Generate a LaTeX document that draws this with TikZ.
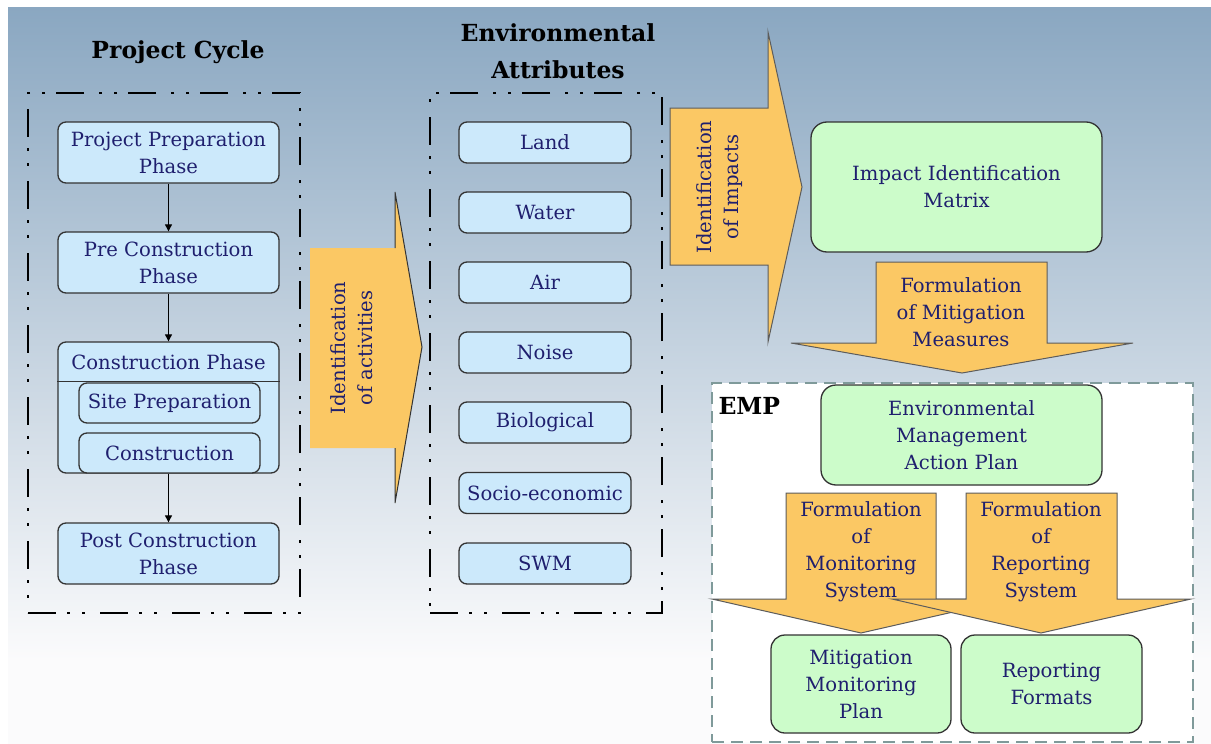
\documentclass[tikz,border=0pt]{standalone}
\usepackage{fontspec}
\setmainfont{DejaVu Serif}
\usetikzlibrary{arrows.meta}
\definecolor{bluefill}{HTML}{CCE9FB}
\definecolor{greenfill}{HTML}{CCFCCA}
\definecolor{orangefill}{HTML}{FBC864}
\definecolor{navy}{HTML}{1F1F6E}
\definecolor{boxline}{HTML}{333333}
\definecolor{bgtop}{HTML}{8AA7C1}
\definecolor{bgbottom}{HTML}{FBFBFC}
\definecolor{empline}{HTML}{7F9A9A}
\tikzset{
  txt/.style={font=\fontsize{19.6}{27}\selectfont, text=navy, align=center},
  pbox/.style={draw=boxline, fill=bluefill, line width=1.3pt, rounded corners=8pt, inner sep=0pt, txt},
  gbox/.style={draw=boxline, fill=greenfill, line width=1.3pt, rounded corners=16pt, inner sep=0pt, txt},
  dashdotbox/.style={draw=black, line width=2.8pt, dash pattern=on 28pt off 11pt on 3pt off 12pt on 3pt off 15pt, inner sep=0pt},
  empbox/.style={draw=empline, fill=white, line width=2.4pt, dash pattern=on 12pt off 7pt, inner sep=0pt},
  blockarrow/.style={fill=orangefill, draw=boxline!80, line width=1pt, line join=miter},
  title/.style={font=\fontsize{23.5}{37}\selectfont\bfseries, text=black, align=center},
  flow/.style={-{Triangle[length=7pt,width=7pt]}, line width=0.9pt, draw=black}
}
\begin{document}
\begin{tikzpicture}[x=1pt,y=-1pt]
\useasboundingbox (0,0) rectangle (1211,744);
% background
\fill[white] (0,0) rectangle (1211,744);
\shade[top color=bgtop, bottom color=bgbottom] (8,7) rectangle (1211,660);
\fill[bgbottom] (8,659.5) rectangle (1211,744);

% titles
\node[title] (t1) at (178,52) {Project Cycle};
\node[title] (t2) at (558,51) {Environmental\\Attributes};

% containers
\node[dashdotbox, minimum width=272pt, minimum height=520pt] (c1) at (164,353) {};
\node[dashdotbox, minimum width=232pt, minimum height=520pt] (c2) at (546,353) {};
\node[empbox, minimum width=481pt, minimum height=359pt] (emp) at (952.5,562.5) {};
\node[title, anchor=west] (emplabel) at (715,406) {EMP};

% project cycle boxes
\node[pbox, minimum width=221pt, minimum height=61pt] (pp) at (168.5,152.5) {Project Preparation\\Phase};
\node[pbox, minimum width=221pt, minimum height=61pt] (pc) at (168.5,262.5) {Pre Construction\\Phase};
\node[pbox, minimum width=221pt, minimum height=131pt] (cp) at (168.5,407.5) {};
\draw[boxline, line width=1.3pt] ([yshift=-40pt]cp.north west) -- ([yshift=-40pt]cp.north east);
\node[txt] (cpt) at (168.5,362) {Construction Phase};
\node[pbox, minimum width=181pt, minimum height=40pt] (sp) at (169.5,403) {Site Preparation};
\node[pbox, minimum width=181pt, minimum height=40pt] (co) at (169.5,453) {Construction};
\node[pbox, minimum width=221pt, minimum height=61pt] (pcp) at (168.5,553.5) {Post Construction\\Phase};
\draw[flow] (pp) -- (pc);
\draw[flow] (pc) -- (cp);
\draw[flow] (cp) -- (pcp);

% attributes
\node[pbox, minimum width=172pt, minimum height=41pt] (a1) at (545,142.5) {Land};
\node[pbox, minimum width=172pt, minimum height=41pt] (a2) at (545,212.5) {Water};
\node[pbox, minimum width=172pt, minimum height=41pt] (a3) at (545,282.5) {Air};
\node[pbox, minimum width=172pt, minimum height=41pt] (a4) at (545,352.5) {Noise};
\node[pbox, minimum width=172pt, minimum height=41pt] (a5) at (545,422.5) {Biological};
\node[pbox, minimum width=172pt, minimum height=41pt] (a6) at (545,493) {Socio-economic};
\node[pbox, minimum width=172pt, minimum height=41pt] (a7) at (545,563.5) {SWM};

% block arrow: identification of activities
\fill[orangefill] (310,248) -- (395,248) -- (395,192) -- (422,347) -- (395,503) -- (395,448) -- (310,448) -- cycle;
\draw[boxline, line width=1pt] (395,248) -- (395,192) -- (422,347) -- (395,503) -- (395,448);
\node[txt, rotate=90] (l1) at (352,348) {Identification\\of activities};

% block arrow: identification of impacts
\path[blockarrow] (670,108) -- (768,108) -- (768,32) -- (802,187) -- (768,342) -- (768,265) -- (670,265) -- cycle;
\node[txt, rotate=90] (l2) at (720,187) {Identification\\of Impacts};

% green boxes
\node[gbox, minimum width=291pt, minimum height=130pt] (iim) at (956.5,187) {Impact Identification\\Matrix};

% block arrow: mitigation measures
\path[blockarrow] (876,262) -- (1047,262) -- (1047,343) -- (1133,343) -- (962,373) -- (791,343) -- (876,343) -- cycle;
\node[txt] (l3) at (961,312) {Formulation\\of Mitigation\\Measures};

\node[gbox, minimum width=281pt, minimum height=100pt, rounded corners=15pt] (emap) at (961.5,435) {Environmental\\Management\\Action Plan};

% block arrows: monitoring / reporting
\path[blockarrow] (786,493) -- (936,493) -- (936,599) -- (1010,599) -- (861,633) -- (712,599) -- (786,599) -- cycle;
\path[blockarrow] (966,493) -- (1117,493) -- (1117,599) -- (1191,599) -- (1041,633) -- (892,599) -- (966,599) -- cycle;
\node[txt] (l4) at (861,552) {Formulation\\of\\Monitoring\\System};
\node[txt] (l5) at (1041,552) {Formulation\\of\\Reporting\\System};

\node[gbox, minimum width=180pt, minimum height=98pt, rounded corners=14pt] (mmp) at (861,684) {Mitigation\\Monitoring\\Plan};
\node[gbox, minimum width=181pt, minimum height=98pt, rounded corners=14pt] (rf) at (1051.5,684) {Reporting\\Formats};
\end{tikzpicture}
\end{document}
